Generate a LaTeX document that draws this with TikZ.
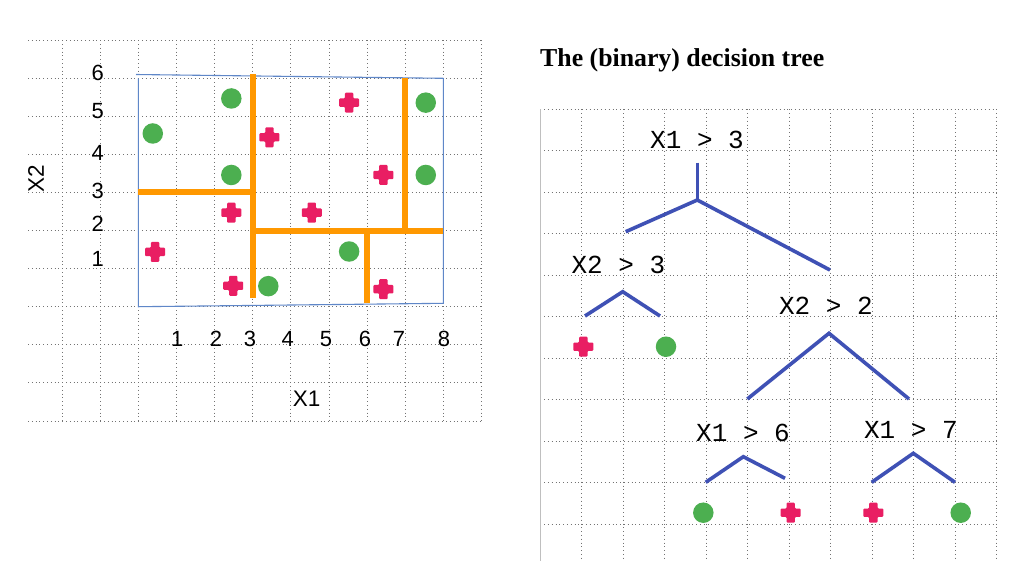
\documentclass[tikz,border=0pt]{standalone}
\usepackage{fontspec}
\newfontfamily\sansf{Liberation Sans}
\newfontfamily\monof{Liberation Mono}
\newfontfamily\titlef{Liberation Serif}
\definecolor{splitorange}{RGB}{255,152,0}
\definecolor{dotgreen}{RGB}{76,175,80}
\definecolor{plusred}{RGB}{233,30,99}
\definecolor{treeblue}{RGB}{63,81,181}
\definecolor{framebl}{RGB}{95,135,200}
\tikzset{
  gridline/.style={draw=black!55, line width=0.7pt, dash pattern=on 0.9pt off 2.9pt},
  split/.style={draw=splitorange, line width=6pt},
  branch/.style={draw=treeblue, line width=3.6pt},
  gdot/.style={circle, fill=dotgreen, minimum size=20.5pt, inner sep=0pt},
  redplus/.pic={\fill[plusred, rounded corners=1pt] (-10pt,-4.2pt)--(-4.2pt,-4.2pt)--(-4.2pt,-10pt)--(4.2pt,-10pt)--(4.2pt,-4.2pt)--(10pt,-4.2pt)--(10pt,4.2pt)--(4.2pt,4.2pt)--(4.2pt,10pt)--(-4.2pt,10pt)--(-4.2pt,4.2pt)--(-10pt,4.2pt)--cycle;},
  axnum/.style={font=\sansf\fontsize{22}{22}\selectfont, anchor=base, inner sep=0pt},
  axname/.style={font=\sansf\fontsize{22.5}{22.5}\selectfont, inner sep=0pt},
  cond/.style={font=\monof\fontsize{26}{26}\selectfont, anchor=base, inner sep=0pt},
}
\begin{document}
\begin{tikzpicture}[x=1pt,y=-1pt]
\useasboundingbox (0,0) rectangle (1016,579);
\fill[white] (0,0) rectangle (1016,579);

% ---------- left grid ----------
\foreach \j in {-3,...,7}
  \draw[gridline] (28,{306.7-38.07*\j}) -- (481.4,{306.7-38.07*\j});
\foreach \i in {-2,...,9}
  \draw[gridline] ({138.3+38.125*\i},40.2) -- ({138.3+38.125*\i},420.9);

% frame
\draw[framebl, line width=1.1pt] (136,74.5) -- (443.3,78.3) -- (443.3,303.3) -- (138.3,306.7) -- (138.3,78.3);

% data scope
\begin{scope}[shift={(138.3pt,-306.7pt)}, x=38.125pt, y=38.07pt]
  \draw[split] (3,6.1) -- (3,0.23);
  \draw[split] (0,3) -- (3,3);
  \draw[split] (3,2) -- (8,2);
  \draw[split] (6,2) -- (6,0.1);
  \draw[split] (7,2) -- (7,6.0);
  % green points
  \node[gdot] (g1) at (2.44,5.47) {};
  \node[gdot] (g2) at (0.38,4.55) {};
  \node[gdot] (g3) at (2.44,3.46) {};
  \node[gdot] (g4) at (3.41,0.54) {};
  \node[gdot] (g5) at (5.53,1.45) {};
  \node[gdot] (g6) at (7.54,5.36) {};
  \node[gdot] (g7) at (7.54,3.46) {};
  % red points
  \pic (p1) at (5.53,5.36) {redplus};
  \pic (p2) at (3.44,4.45) {redplus};
  \pic (p3) at (6.43,3.46) {redplus};
  \pic (p4) at (2.44,2.47) {redplus};
  \pic (p5) at (4.55,2.47) {redplus};
  \pic (p6) at (0.44,1.44) {redplus};
  \pic (p7) at (2.49,0.55) {redplus};
  \pic (p8) at (6.43,0.46) {redplus};
\end{scope}

% axis numbers
\node[axnum] (y6) at (97.7,80) {6};
\node[axnum] (y5) at (97.7,118.3) {5};
\node[axnum] (y4) at (97.7,160) {4};
\node[axnum] (y3) at (97.7,198.3) {3};
\node[axnum] (y2) at (97.7,231.7) {2};
\node[axnum] (y1) at (97.7,266) {1};
\node[axnum] (x1) at (177.3,346.7) {1};
\node[axnum] (x2) at (216,346.7) {2};
\node[axnum] (x3) at (250,346.7) {3};
\node[axnum] (x4) at (287.7,346.7) {4};
\node[axnum] (x5) at (326,346.7) {5};
\node[axnum] (x6) at (365,346.7) {6};
\node[axnum] (x7) at (399,346.7) {7};
\node[axnum] (x8) at (444,346.7) {8};
\node[axname, anchor=base] (xname) at (306.7,406.7) {X1};
\node[axname, rotate=90] (yname) at (36,178.3) {X2};

% ---------- title ----------
\node[font=\titlef\bfseries\fontsize{25.8}{25.8}\selectfont, anchor=base west, inner sep=0pt] (title) at (540,66.7) {The (binary) decision tree};

% ---------- right grid ----------
\foreach \k in {0,...,10}
  \draw[gridline] (540.3,{109.3+41.5*\k}) -- (996.8,{109.3+41.5*\k});
\foreach \k in {1,...,11}
  \draw[gridline] ({540.3+41.5*\k},109.3) -- ({540.3+41.5*\k},561);
\draw[black!25, line width=1.2pt] (540.3,109.3) -- (540.3,561);

% ---------- tree ----------
\node[cond] (n1) at (697,148.3) {X1 > 3};
\coordinate (n1top) at (697.3,162.7);
\coordinate (n1fork) at (697.3,200);
\coordinate (n1l) at (625.7,231.7);
\coordinate (n1r) at (830,270);
\draw[branch] (n1top) -- (n1fork);
\draw[branch] (n1l) -- (n1fork) -- (n1r);

\node[cond] (n2) at (618.3,273.3) {X2 > 3};
\coordinate (n2apex) at (622.7,291.7);
\coordinate (n2l) at (585,316);
\coordinate (n2r) at (660,316);
\draw[branch] (n2l) -- (n2apex) -- (n2r);
\pic (leafA) at (583.3,346.7) {redplus};
\node[gdot] (leafB) at (666,346.7) {};

\node[cond] (n3) at (825.8,314.5) {X2 > 2};
\coordinate (n3apex) at (829,333.3);
\coordinate (n3l) at (747.3,399);
\coordinate (n3r) at (909,399);
\draw[branch] (n3l) -- (n3apex) -- (n3r);

\node[cond] (n4) at (743,441.7) {X1 > 6};
\coordinate (n4apex) at (743.3,456.7);
\coordinate (n4l) at (705.7,482.3);
\coordinate (n4r) at (785,478.3);
\draw[branch] (n4l) -- (n4apex) -- (n4r);
\node[gdot] (leafC) at (703.3,512.7) {};
\pic (leafD) at (790.7,512.7) {redplus};

\node[cond] (n5) at (910.8,438.3) {X1 > 7};
\coordinate (n5apex) at (913.3,453.3);
\coordinate (n5l) at (871.7,482.3);
\coordinate (n5r) at (955,482.3);
\draw[branch] (n5l) -- (n5apex) -- (n5r);
\pic (leafE) at (873.3,512.7) {redplus};
\node[gdot] (leafF) at (960.7,512.7) {};
\end{tikzpicture}
\end{document}
